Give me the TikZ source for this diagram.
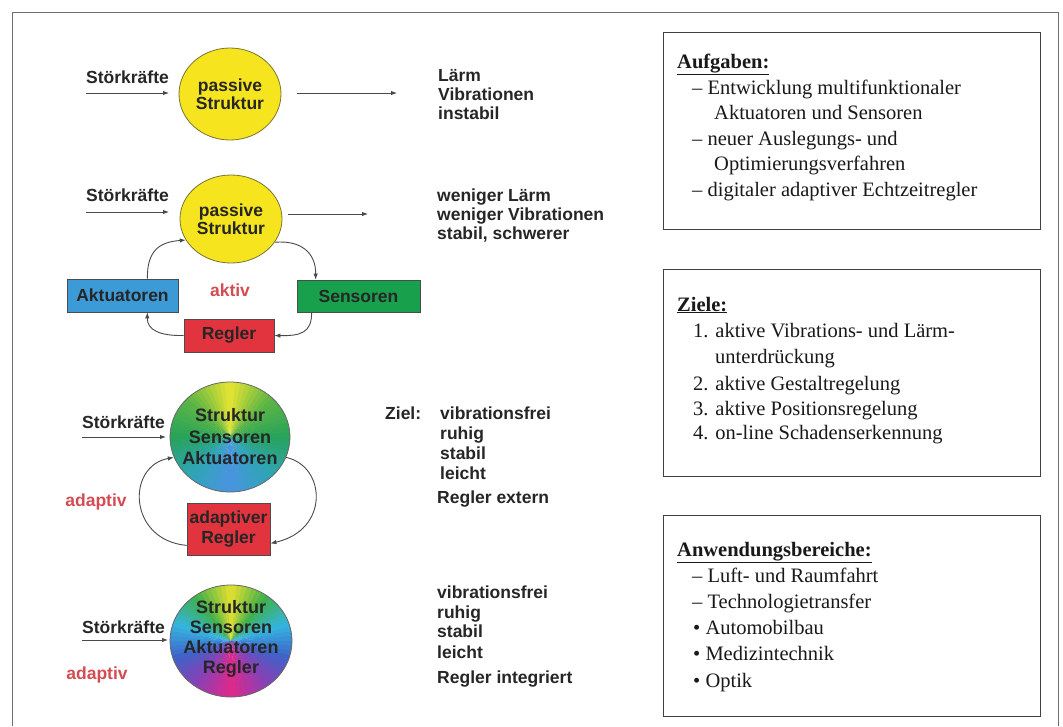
\documentclass[tikz,border=0pt]{standalone}
\usepackage{fontspec}
\newfontfamily\labfont{Liberation Sans}
\newfontfamily\serfont{Liberation Serif}
\usetikzlibrary{arrows.meta,shapes.geometric,calc}
\definecolor{yel}{HTML}{F6E51E}
\definecolor{yelline}{HTML}{7A7630}
\definecolor{aktblue}{HTML}{3C9AD6}
\definecolor{sengreen}{HTML}{18A04C}
\definecolor{regred}{HTML}{E2343E}
\definecolor{redtext}{HTML}{D24C52}
\definecolor{arrowgray}{HTML}{4A4A4A}
\definecolor{framegray}{HTML}{6E6E6E}
\definecolor{ca0}{HTML}{E6E432}
\definecolor{ca1}{HTML}{5CB545}
\definecolor{ca2}{HTML}{27A35A}
\definecolor{ca3}{HTML}{2EA5B5}
\definecolor{ca4}{HTML}{4A94E0}
\definecolor{cb0}{HTML}{E4E030}
\definecolor{cb1}{HTML}{3FB04A}
\definecolor{cb2}{HTML}{35B4E0}
\definecolor{cb3}{HTML}{3F62C8}
\definecolor{cb4}{HTML}{8A3FB4}
\definecolor{cb5}{HTML}{E0288A}
\tikzset{
  lab/.style={font=\labfont\bfseries\fontsize{17.5}{20}\selectfont, inner sep=0pt, text=black!85},
  redlab/.style={font=\labfont\bfseries\fontsize{17.5}{20}\selectfont, inner sep=0pt, text=redtext},
  serif/.style={font=\serfont\fontsize{20.5}{25}\selectfont, inner sep=0pt, text=black!90},
  flow/.style={draw=arrowgray, line width=0.9pt, -{Latex[length=6pt,width=4.5pt]}},
  colbox/.style={draw=black!70, line width=0.8pt, inner sep=0pt, text=black!85,
    font=\labfont\bfseries\fontsize{17.5}{20}\selectfont},
  yelcirc/.style={ellipse, fill=yel, draw=yelline, line width=0.8pt, inner sep=0pt, align=center,
    text=black!85, font=\labfont\bfseries\fontsize{17.5}{18}\selectfont},
  gradring/.style={ellipse, draw=black!60, line width=0.8pt, inner sep=0pt},
  gradtext/.style={inner sep=0pt, align=center, text=black!85},
  infobox/.style={draw=black!75, line width=0.9pt, inner sep=0pt},
}
\begin{document}
\begin{tikzpicture}[x=1pt,y=-1pt]
\useasboundingbox (0,0) rectangle (1063,726);
\fill[white] (0,0) rectangle (1063,726);
\draw[framegray, line width=1pt] (12,726) -- (12,12) -- (1058,12) -- (1058,726);

% ---------- row 1 ----------
\node[lab, anchor=base west] (st1) at (86,83) {Störkräfte};
\coordinate (st1a) at (86,93);
\coordinate (st1b) at (169,93);
\draw[flow] (st1a) -- (st1b);
\node[yelcirc, minimum width=102pt, minimum height=92pt] (ps1) at (230,94) {passive\\Struktur};
\coordinate (o1a) at (297,93);
\coordinate (o1b) at (397,93);
\draw[flow] (o1a) -- (o1b);
\node[lab, anchor=base west] (r1a) at (438,81) {Lärm};
\node[lab, anchor=base west] (r1b) at (438,100) {Vibrationen};
\node[lab, anchor=base west] (r1c) at (438,119) {instabil};

% ---------- row 2 ----------
\node[lab, anchor=base west] (st2) at (86,201) {Störkräfte};
\coordinate (st2a) at (86,212);
\coordinate (st2b) at (169,212);
\draw[flow] (st2a) -- (st2b);
\node[yelcirc, minimum width=102pt, minimum height=88pt] (ps2) at (231,219) {passive\\Struktur};
\coordinate (o2a) at (288,214);
\coordinate (o2b) at (368,214);
\draw[flow] (o2a) -- (o2b);
\node[lab, anchor=base west] (r2a) at (437,201) {weniger Lärm};
\node[lab, anchor=base west] (r2b) at (437,220) {weniger Vibrationen};
\node[lab, anchor=base west] (r2c) at (437,239) {stabil, schwerer};

\node[colbox, fill=aktblue, minimum width=111pt, minimum height=33pt] (akt) at (122.5,295.5) {Aktuatoren};
\node[colbox, fill=sengreen, minimum width=123pt, minimum height=32pt] (sen) at (358.5,296) {Sensoren};
\node[colbox, fill=regred, minimum width=90pt, minimum height=33pt] (reg) at (229,335.5) {Regler};
\node[redlab] (aktiv) at (230,290) {aktiv};

\draw[flow] ($(akt.north east)+(-31pt,0pt)$) .. controls (147,252) and (158,242) .. (ps2.205);
\draw[flow] (ps2.-28) .. controls (300,240) and (316,252) .. ($(sen.north west)+(19pt,0pt)$);
\draw[flow] ($(sen.south west)+(15pt,0pt)$) .. controls (312,333) and (300,336) .. (reg.east);
\draw[flow] (reg.west) .. controls (160,336) and (147,330) .. ($(akt.south east)+(-31pt,0pt)$);

% ---------- row 3 ----------
\node[lab, anchor=base west] (st3) at (82,428) {Störkräfte};
\coordinate (st3a) at (82,437);
\coordinate (st3b) at (166,437);
\draw[flow] (st3a) -- (st3b);
\foreach \i in {0,...,71}{
  \pgfmathsetmacro\cAng{-90+5*\i}
  \pgfmathsetmacro\cT{5*\i+2.5}
  \pgfmathsetmacro\cT{\cT>180 ? 360-\cT : \cT}
  \pgfmathtruncatemacro\cK{\cT/45}
  \pgfmathtruncatemacro\cN{\cK+1}
  \pgfmathtruncatemacro\cF{100*(\cT-45*\cK)/45}
  \fill[ca\cN!\cF!ca\cK] (230,437) -- ++(\cAng:60 and 55)
     arc[start angle=\cAng, end angle=\cAng+5.6, x radius=60, y radius=55] -- cycle;
}
\node[gradring, minimum width=120pt, minimum height=110pt] (c3) at (230,437) {};
\node[gradtext, font=\labfont\bfseries\fontsize{18}{21.5}\selectfont] (c3t) at (230,437) {Struktur\\Sensoren\\Aktuatoren};
\node[colbox, fill=regred, minimum width=83pt, minimum height=52pt, align=center,
  font=\labfont\bfseries\fontsize{17.5}{20}\selectfont] (ar) at (228.5,529) {adaptiver\\Regler};
\draw[flow] ($(ar.south west)+(0pt,10pt)$) .. controls (128,540) and (126,466) .. (c3.200);
\draw[flow] (c3.-20) .. controls (326,466) and (330,530) .. ($(ar.south east)+(0pt,12pt)$);
\node[redlab] (adap3) at (96,502) {adaptiv};
\node[lab, anchor=base west] (ziel) at (385,419) {Ziel:};
\node[lab, anchor=base west] (r3a) at (440,419) {vibrationsfrei};
\node[lab, anchor=base west] (r3b) at (440,439) {ruhig};
\node[lab, anchor=base west] (r3c) at (440,459) {stabil};
\node[lab, anchor=base west] (r3d) at (440,479) {leicht};
\node[lab, anchor=base west] (r3e) at (437,503) {Regler extern};

% ---------- row 4 ----------
\node[lab, anchor=base west] (st4) at (82,633) {Störkräfte};
\coordinate (st4a) at (82,640);
\coordinate (st4b) at (168,640);
\draw[flow] (st4a) -- (st4b);
\foreach \i in {0,...,71}{
  \pgfmathsetmacro\cAng{-90+5*\i}
  \pgfmathsetmacro\cT{5*\i+2.5}
  \pgfmathsetmacro\cT{\cT>180 ? 360-\cT : \cT}
  \pgfmathtruncatemacro\cK{\cT/36}
  \pgfmathtruncatemacro\cN{\cK+1}
  \pgfmathtruncatemacro\cF{100*(\cT-36*\cK)/36}
  \fill[cb\cN!\cF!cb\cK] (231,641) -- ++(\cAng:61 and 56)
     arc[start angle=\cAng, end angle=\cAng+5.6, x radius=61, y radius=56] -- cycle;
}
\node[gradring, minimum width=122pt, minimum height=112pt] (c4) at (231,641) {};
\node[gradtext, font=\labfont\bfseries\fontsize{18}{20}\selectfont] (c4t) at (231,639) {Struktur\\Sensoren\\Aktuatoren\\Regler};
\node[redlab] (adap4) at (97,675) {adaptiv};
\node[lab, anchor=base west] (r4a) at (437,598) {vibrationsfrei};
\node[lab, anchor=base west] (r4b) at (437,618) {ruhig};
\node[lab, anchor=base west] (r4c) at (437,637) {stabil};
\node[lab, anchor=base west] (r4d) at (437,658) {leicht};
\node[lab, anchor=base west] (r4e) at (437,683) {Regler integriert};

% ---------- info boxes ----------
\node[infobox, minimum width=377pt, minimum height=197pt, anchor=north west] (bx1) at (663,32) {};
\node[serif, anchor=base west] (b1a) at (677,68) {\underline{\textbf{Aufgaben:}}};
\node[serif, anchor=base west] (b1b) at (692,94) {– Entwicklung multifunktionaler};
\node[serif, anchor=base west] (b1c) at (714,119) {Aktuatoren und Sensoren};
\node[serif, anchor=base west] (b1d) at (692,145) {– neuer Auslegungs- und};
\node[serif, anchor=base west] (b1e) at (714,170) {Optimierungsverfahren};
\node[serif, anchor=base west] (b1f) at (692,196) {– digitaler adaptiver Echtzeitregler};

\node[infobox, minimum width=377pt, minimum height=207pt, anchor=north west] (bx2) at (663,269) {};
\node[serif, anchor=base west] (b2a) at (677,311) {\underline{\textbf{Ziele:}}};
\node[serif, anchor=base west] (b2b) at (693,337) {1. aktive Vibrations- und Lärm-};
\node[serif, anchor=base west] (b2c) at (715,363) {unterdrückung};
\node[serif, anchor=base west] (b2d) at (693,390) {2. aktive Gestaltregelung};
\node[serif, anchor=base west] (b2e) at (693,415) {3. aktive Positionsregelung};
\node[serif, anchor=base west] (b2f) at (693,439) {4. on-line Schadenserkennung};

\node[infobox, minimum width=377pt, minimum height=201pt, anchor=north west] (bx3) at (663,515) {};
\node[serif, anchor=base west] (b3a) at (677,556) {\underline{\textbf{Anwendungsbereiche:}}};
\node[serif, anchor=base west] (b3b) at (692,582) {– Luft- und Raumfahrt};
\node[serif, anchor=base west] (b3c) at (692,608) {– Technologietransfer};
\node[serif, anchor=base west] (b3d) at (693,634) {\textbullet\ Automobilbau};
\node[serif, anchor=base west] (b3e) at (693,660) {\textbullet\ Medizintechnik};
\node[serif, anchor=base west] (b3f) at (693,687) {\textbullet\ Optik};
\end{tikzpicture}
\end{document}
